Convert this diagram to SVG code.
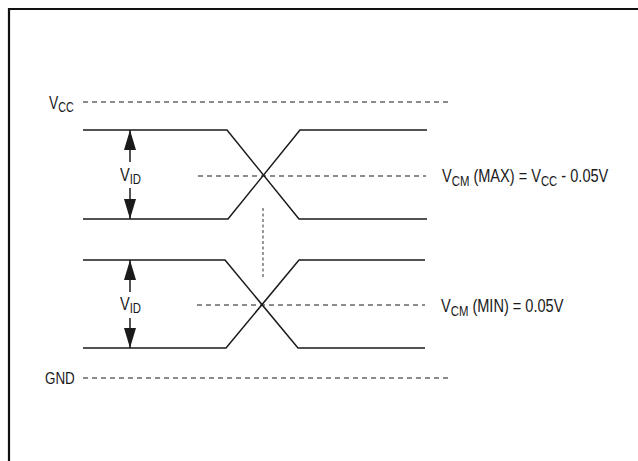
<svg xmlns="http://www.w3.org/2000/svg" width="638" height="461" viewBox="0 0 638 461">
<style>
  text { font-family: "Liberation Sans", Arial, sans-serif; font-size: 18px; fill: #1a1a1a; }
  .sub { font-size: 14px; }
  .wave { fill: none; stroke: #1a1a1a; stroke-width: 1.5; }
  .dash { fill: none; stroke: #1a1a1a; stroke-width: 1.2; stroke-dasharray: 5 4; }
  .vdash { fill: none; stroke: #777; stroke-width: 1.5; stroke-dasharray: 3 2.5; }
  .arrow { stroke: #1a1a1a; stroke-width: 1.5; }
  .frame { fill: none; stroke: #111; stroke-width: 2.2; }
</style>
<defs>
  <marker id="ah" markerUnits="userSpaceOnUse" markerWidth="20" markerHeight="12" refX="20" refY="6" orient="auto">
    <path d="M0,0 L20,6 L0,12 Z" fill="#1a1a1a"/>
  </marker>
</defs>
<rect width="638" height="461" fill="#fff"/>
<path class="frame" d="M9,461 V9 H638"/>

<g id="vcc">
  <path class="dash" d="M83,102 H448"/>
  <text transform="translate(49,109) scale(0.77,1)">V<tspan class="sub" dy="3">CC</tspan></text>
</g>
<g id="gnd">
  <path class="dash" d="M83,378 H448"/>
  <text transform="translate(45,383.5) scale(0.79,1)" style="font-size:17px">GND</text>
</g>

<g id="wave-top">
  <path class="wave" d="M83,130 H227 L299,219 H427"/>
  <path class="wave" d="M83,219 H228 L300,130 H427"/>
</g>
<g id="wave-bottom">
  <path class="wave" d="M83,260 H225 L298,348 H425"/>
  <path class="wave" d="M83,348 H226 L299,260 H425"/>
</g>

<g id="vcm-max">
  <path class="dash" d="M198,176 H426"/>
  <text transform="translate(442,182) scale(0.81,1)">V<tspan class="sub" dy="4">CM</tspan><tspan dy="-4"> (MAX) = V</tspan><tspan class="sub" dy="4">CC</tspan><tspan dy="-4"> - 0.05V</tspan></text>
</g>
<g id="vcm-min">
  <path class="dash" d="M197,305 H425"/>
  <text transform="translate(441,312) scale(0.81,1)">V<tspan class="sub" dy="4">CM</tspan><tspan dy="-4"> (MIN) = 0.05V</tspan></text>
</g>

<g id="connectors">
  <path class="vdash" d="M263,208 V277"/>
  <line class="arrow" x1="130" y1="162" x2="130" y2="130" marker-end="url(#ah)"/>
  <line class="arrow" x1="130" y1="188" x2="130" y2="219" marker-end="url(#ah)"/>
  <line class="arrow" x1="130" y1="292" x2="130" y2="260" marker-end="url(#ah)"/>
  <line class="arrow" x1="130" y1="318" x2="130" y2="348" marker-end="url(#ah)"/>
</g>

<g id="vid-top">
  <text transform="translate(120,181) scale(0.81,1)">V<tspan class="sub" dy="3">ID</tspan></text>
</g>
<g id="vid-bottom">
  <text transform="translate(120,310) scale(0.81,1)">V<tspan class="sub" dy="3">ID</tspan></text>
</g>
</svg>
